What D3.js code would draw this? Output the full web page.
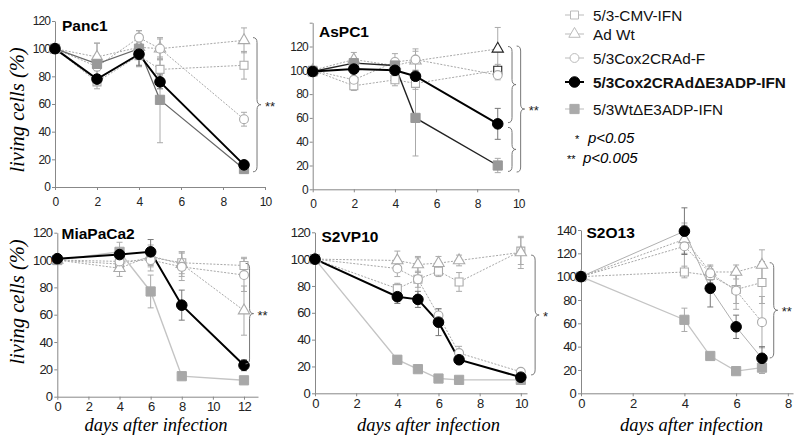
<!DOCTYPE html>
<html><head><meta charset="utf-8">
<script src="https://cdn.jsdelivr.net/npm/d3@7"></script>
<style>body{margin:0;background:#fff} svg{display:block}</style>
</head><body><svg id="c" width="800" height="439"></svg>
<script>
// ---------------- DATA ----------------
const seriesNames = ["5/3-CMV-IFN", "Ad Wt", "5/3Cox2CRAd-F", "5/3Cox2CRAd\u0394E3ADP-IFN", "5/3Wt\u0394E3ADP-IFN"];
const panelTitles = ["Panc1", "AsPC1", "MiaPaCa2", "S2VP10", "S2O13"];
const significance = ["**", "**", "**", "*", "**"];
const pValueStars = ["*", "**"];
const pValueLabels = ["p<0.05", "p<0.005"];
const yAxisLabel = "living cells (%)";
const xAxisLabel = "days after infection";

// series order: CMV, AdWt, Cox2CRAd-F, Cox2CRAdΔE3ADP-IFN, WtΔE3ADP-IFN
const panc1Days = [0, 2, 4, 5, 9];
const panc1Values = [
  [100, 76, 95, 85, 88],
  [100, 94, 101, 100, 106],
  [100, 87, 108, 100, 49],
  [100, 78, 96, 76, 16],
  [100, 89, 100, 63, 13]];
const panc1Errors = [
  [0, 5, 8, 7, 10],
  [0, 10, 8, 7, 9],
  [0, 8, 5, 8, 5],
  [0, 3, 8, 5, 3],
  [0, 15, 13, 31, 3]];

const aspc1Days = [0, 2, 4, 5, 9];
const aspc1Values = [
  [100, 87, 92, 89, 100],
  [100, 109, 104, 108, 118],
  [100, 92, 107, 109, 96],
  [99, 101, 100, 95, 55],
  [99, 106, 104, 60, 20]];
const aspc1Errors = [
  [0, 4, 5, 5, 5],
  [0, 6, 6, 8, 18],
  [0, 6, 7, 9, 4],
  [0, 3, 4, 3, 13],
  [0, 4, 5, 32, 6]];

const miaDays = [0, 4, 6, 8, 12];
const miaValues = [
  [100, 97, 102, 98, 96],
  [100, 94, 103, 97, 63],
  [100, 99, 100, 95, 89],
  [101, 104, 106, 67, 23],
  [100, 106, 77, 15, 12]];
const miaErrors = [
  [0, 5, 6, 8, 6],
  [0, 6, 8, 9, 18],
  [0, 6, 8, 10, 12],
  [0, 4, 9, 11, 4],
  [0, 7, 12, 2, 2]];

const s2vp10Days = [0, 4, 5, 6, 7, 10];
const s2vp10Values = [
  [100, 78, 85, 91, 83, 106],
  [100, 99, 96, 97, 99, 105],
  [100, 93, 85, 58, 30, 16],
  [100, 72, 70, 53, 25, 12],
  [100, 25, 18, 11, 10, 10]];
const s2vp10Errors = [
  [0, 4, 6, 4, 7, 10],
  [0, 7, 6, 5, 4, 12],
  [0, 6, 16, 5, 5, 2],
  [0, 5, 6, 10, 3, 2],
  [0, 3, 2, 1, 1, 1]];

const s2o13Days = [0, 4, 5, 6, 7];
const s2o13Values = [
  [100, 104, 101, 89, 95],
  [100, 132, 104, 104, 110],
  [100, 126, 103, 88, 61],
  [100, 139, 90, 57, 30],
  [100, 63, 32, 19, 22]];
const s2o13Errors = [
  [0, 5, 6, 12, 18],
  [0, 12, 6, 6, 13],
  [0, 20, 6, 16, 22],
  [0, 20, 16, 10, 10],
  [0, 10, 3, 2, 5]];

const yTicks120 = [0, 20, 40, 60, 80, 100, 120];
const yTicks140 = [0, 20, 40, 60, 80, 100, 120, 140];
const xTicks10 = [0, 2, 4, 6, 8, 10];
const xTicks12 = [0, 2, 4, 6, 8, 10, 12];
const xTicks8 = [0, 2, 4, 6, 8];

// brace annotations (data units): x, top value, bottom value
const panc1Braces = [[9.43, 108, 11]];
const aspc1Braces = [[9.5, 120, 56], [9.5, 52, 15], [9.92, 120.4, 14.5]];
const miaBraces = [[12.1, 97.6, 24]];
const s2vp10Braces = [[10.5, 103, 13.7]];
const s2o13Braces = [[7.3, 112, 30.3]];

// ---------------- LAYOUT / STYLE ----------------
const panels = [
  {days: panc1Days, values: panc1Values, errors: panc1Errors, braces: panc1Braces, xt: xTicks10, yt: yTicks120, ylab: yTicks120,
   xr: [55, 265], xd: [0, 10], yr: [187, 21], yd: [0, 120], title: [62, 30.5], row: 0,
   grayLine: "#666", grayW: 1.2, grayFill: "#999", blackLine: "#000", blackW: 2},
  {days: aspc1Days, values: aspc1Values, errors: aspc1Errors, braces: aspc1Braces, xt: xTicks10, yt: yTicks140, ylab: yTicks120,
   xr: [312.7, 518.3], xd: [0, 10], yr: [189.3, 22.7], yd: [0, 140], title: [319, 37], row: 0,
   grayLine: "#222", grayW: 1.4, grayFill: "#999", blackLine: "#000", blackW: 2, darkEnd: true},
  {days: miaDays, values: miaValues, errors: miaErrors, braces: miaBraces, xt: xTicks12, yt: yTicks120, ylab: yTicks120,
   xr: [57.3, 258], xd: [0, 12.9], yr: [396.7, 232.7], yd: [0, 120], title: [61.5, 239.3], row: 1,
   grayLine: "#c4c4c4", grayW: 1.4, grayFill: "#a8a8a8", blackLine: "#000", blackW: 2},
  {days: s2vp10Days, values: s2vp10Values, errors: s2vp10Errors, braces: s2vp10Braces, xt: xTicks10, yt: yTicks120, ylab: yTicks120,
   xr: [315, 527], xd: [0, 10.3], yr: [393.3, 232.3], yd: [0, 120], title: [321.5, 241.5], row: 1,
   grayLine: "#c4c4c4", grayW: 1.4, grayFill: "#a8a8a8", blackLine: "#000", blackW: 2},
  {days: s2o13Days, values: s2o13Values, errors: s2o13Errors, braces: s2o13Braces, xt: xTicks8, yt: yTicks140, ylab: yTicks140,
   xr: [581, 793], xd: [0, 8.2], yr: [393.3, 230], yd: [0, 140], title: [586.5, 238.3], row: 1,
   grayLine: "#c4c4c4", grayW: 1.2, grayFill: "#a8a8a8", blackLine: "#b0b0b0", blackW: 1}
];

const styles = [
  {sym: d3.symbolSquare, size: 64, fill: "#fff", stroke: "#aaa", line: "#a8a8a8", dash: "2,1.5", lw: 1},
  {sym: d3.symbolTriangle, size: 56, fill: "#fff", stroke: "#aaa", line: "#a8a8a8", dash: "2,1.5", lw: 1},
  {sym: d3.symbolCircle, size: 62, fill: "#fff", stroke: "#aaa", line: "#a8a8a8", dash: "2,1.5", lw: 1},
  {sym: d3.symbolCircle, size: 88, fill: "#000", stroke: "#000", line: "#000", dash: null, lw: 2},
  {sym: d3.symbolSquare, size: 85, fill: "#9a9a9a", stroke: "#999", line: "#999", dash: null, lw: 1.2}
];
const drawOrder = [0, 1, 2, 4, 3];
const tickFont = '"Liberation Sans",Arial,sans-serif';
const sansFont = '"Liberation Sans",Arial,Helvetica,sans-serif';
const serifFont = '"Liberation Serif","Times New Roman",Times,serif';

const svg = d3.select("#c");

function bracePath(x, y1, y2, w) {
  const xm = x + w * 0.5, ym = (y1 + y2) / 2, r = Math.min(5, (y2 - y1) / 4);
  return `M${x},${y1} Q${xm},${y1} ${xm},${y1 + r} L${xm},${ym - r} Q${xm},${ym} ${x + w},${ym} ` +
         `Q${xm},${ym} ${xm},${ym + r} L${xm},${y2 - r} Q${xm},${y2} ${x},${y2}`;
}

panels.forEach((p, pi) => {
  const x = d3.scaleLinear().domain(p.xd).range(p.xr);
  const y = d3.scaleLinear().domain(p.yd).range(p.yr);
  const g = svg.append("g");
  const fs = p.row === 0 ? 12 : 13;
  const ls = p.row === 0 ? -0.9 : -0.8;

  const yAxis = d3.axisLeft(y).tickValues(p.yt).tickSize(3).tickPadding(2).tickSizeOuter(0)
    .tickFormat(v => p.ylab.includes(v) ? v : "");
  const xAxis = d3.axisBottom(x).tickValues(p.xt).tickSize(3).tickPadding(p.row === 0 ? 7 : 2).tickSizeOuter(0);

  const ga = g.append("g").attr("transform", `translate(${p.xr[0]},0)`).call(yAxis);
  const gx = g.append("g").attr("transform", `translate(0,${p.yr[0]})`).call(xAxis);
  [ga, gx].forEach(a => {
    a.select(".domain").attr("stroke", "#888");
    a.selectAll(".tick line").attr("stroke", "#888");
    a.selectAll("text").attr("fill", "#222").style("font-family", tickFont).style("font-size", fs + "px")
      .style("letter-spacing", ls + "px");
  });

  // title
  g.append("text").attr("x", p.title[0]).attr("y", p.title[1]).text(panelTitles[pi])
    .style("font-family", sansFont).style("font-weight", "bold").style("font-size", "15.5px");

  // lines
  drawOrder.forEach(si => {
    const st = styles[si];
    const pts = p.days.map((d, i) => [d, p.values[si][i]]);
    let lineColor = st.line, lw = st.lw;
    if (si === 4) { lineColor = p.grayLine; lw = p.grayW; }
    if (si === 3) { lineColor = p.blackLine; lw = p.blackW; }
    g.append("path").datum(pts)
      .attr("d", d3.line().x(d => x(d[0])).y(d => y(d[1])))
      .attr("fill", "none").attr("stroke", lineColor).attr("stroke-width", lw)
      .attr("stroke-dasharray", st.dash);
  });
  // error bars
  drawOrder.forEach(si => {
    p.days.forEach((d, i) => {
      const e = p.errors[si][i];
      if (!e) return;
      const v = p.values[si][i];
      const col = si === 3 ? "#777" : "#aaa";
      const xx = x(d), y1 = y(v + e), y2 = y(v - e);
      g.append("line").attr("x1", xx).attr("x2", xx).attr("y1", y1).attr("y2", y2).attr("stroke", col).attr("stroke-width", 1);
      [y1, y2].forEach(yy => g.append("line").attr("x1", xx - 3).attr("x2", xx + 3).attr("y1", yy).attr("y2", yy)
        .attr("stroke", col).attr("stroke-width", 1));
    });
  });
  // markers
  drawOrder.forEach(si => {
    const st = styles[si];
    p.days.forEach((d, i) => {
      const last = i === p.days.length - 1;
      const stroke = (p.darkEnd && last && si < 2) ? "#222" : (si === 4 ? p.grayFill : st.stroke);
      g.append("path").attr("d", d3.symbol().type(st.sym).size(st.size)())
        .attr("transform", `translate(${x(d)},${y(p.values[si][i])})`)
        .attr("fill", si === 4 ? p.grayFill : st.fill).attr("stroke", stroke).attr("stroke-width", si < 3 ? 1.1 : 1);
    });
  });
  // braces
  let maxX = 0, tipY = 0;
  p.braces.forEach(b => {
    const bx = x(b[0]), y1 = y(b[1]), y2 = y(b[2]);
    g.append("path").attr("d", bracePath(bx, y1, y2, 8)).attr("fill", "none").attr("stroke", "#777").attr("stroke-width", 1);
    if (bx + 8 >= maxX) { maxX = bx + 8; tipY = (y1 + y2) / 2; }
  });
  g.append("text").attr("x", maxX + 4).attr("y", tipY + 6).text(significance[pi])
    .style("font-family", sansFont).style("font-size", "13px").attr("fill", "#222");
});

// axis titles
[[24, 110], [24, 302]].forEach(c => {
  svg.append("text").attr("transform", `translate(${c[0]},${c[1]}) rotate(-90)`).attr("text-anchor", "middle")
    .text(yAxisLabel).style("font-family", serifFont).style("font-style", "italic").style("font-size", "20.5px");
});
[156, 428.5, 691.5].forEach(cx => {
  svg.append("text").attr("x", cx).attr("y", 431).attr("text-anchor", "middle")
    .text(xAxisLabel).style("font-family", serifFont).style("font-style", "italic").style("font-size", "18.5px");
});

// legend
const legendY = [15, 34, 58, 82, 109];
seriesNames.forEach((name, si) => {
  const st = styles[si];
  const gy = legendY[si];
  const lg = svg.append("g");
  lg.append("line").attr("x1", 565).attr("x2", 584).attr("y1", gy).attr("y2", gy)
    .attr("stroke", si === 3 ? "#000" : "#bbb").attr("stroke-width", si === 3 ? 2 : 1);
  lg.append("path").attr("d", d3.symbol().type(st.sym).size(st.size)())
    .attr("transform", `translate(574.5,${gy})`)
    .attr("fill", si === 4 ? "#aaa" : st.fill).attr("stroke", si < 3 ? "#bbb" : (si === 4 ? "#aaa" : st.stroke));
  lg.append("text").attr("x", 593).attr("y", gy + 5.5).text(name)
    .style("font-family", sansFont).style("font-size", "15.3px")
    .style("font-weight", si === 3 ? "bold" : "normal").attr("fill", "#111");
});
// p-value legend
[[575, 588, 143], [567, 583, 163]].forEach((c, i) => {
  svg.append("text").attr("x", c[0]).attr("y", c[2]).text(pValueStars[i])
    .style("font-family", sansFont).style("font-size", "11px");
  svg.append("text").attr("x", c[1]).attr("y", c[2]).text(pValueLabels[i])
    .style("font-family", sansFont).style("font-style", "italic").style("font-size", "15px");
});
</script></body></html>
